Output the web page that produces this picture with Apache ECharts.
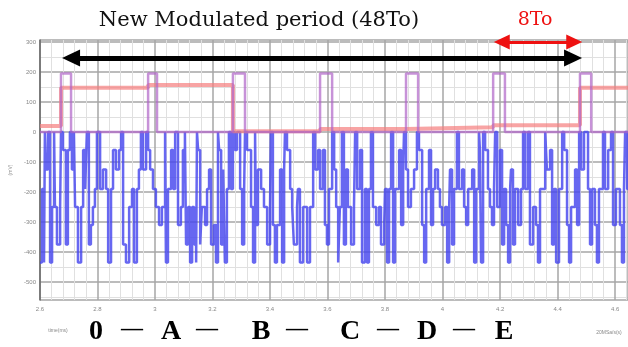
<!DOCTYPE html>
<html>
<head>
<meta charset="utf-8">
<script src="https://cdn.jsdelivr.net/npm/echarts@6/dist/echarts.min.js"></script>
<style>
html,body{margin:0;padding:0;background:#fff;}
#c{width:628px;height:347px;}
</style>
</head>
<body>
<div id="c"></div>
<script>
// ---- data ----
const xMin = 2.6, xMax = 4.645;
const yMin = -560, yMax = 307;

// purple pulse train (time, value)
const pulseTimes  = [2.6, 2.673, 2.708, 2.976, 3.007, 3.271, 3.313, 3.574, 3.616, 3.873, 3.915, 4.176, 4.217, 4.478, 4.517, 4.645];
const pulseValues = [0,   195,   0,     195,   0,     195,   0,     195,   0,     195,   0,     195,   0,     195,   0,     0];

// red step line (time, value)
const redTimes  = [2.6, 2.673, 2.976, 3.271, 3.574, 3.873, 4.176, 4.478, 4.645];
const redValues = [20,  148,   157,   3,     10,    16,    23,    148,   148];

// blue switching waveform (time, value)
const blueSteps = [
 [2.600,-435],[2.607,-190],[2.614,-435],[2.617,0],[2.621,-125],[2.628,0],[2.635,-435],[2.642,-250],[2.649,0],[2.652,-250],
 [2.659,-375],[2.670,-250],[2.673,0],[2.680,-60],[2.690,-375],[2.697,-60],[2.704,0],[2.711,-125],[2.718,0],[2.722,-250],
 [2.732,-435],[2.743,-250],[2.750,-60],[2.757,-190],[2.763,0],[2.770,-375],[2.777,-310],[2.784,-250],[2.791,-190],[2.798,0],
 [2.809,-190],[2.819,-125],[2.830,-190],[2.837,-435],[2.847,-190],[2.854,-60],[2.864,-125],[2.875,-60],[2.882,0],[2.889,-375],
 [2.899,-435],[2.910,-250],[2.920,-190],[2.927,-435],[2.937,-190],[2.944,-125],[2.951,0],[2.958,-125],[2.969,0],[2.976,-60],
 [2.983,-125],[2.993,-190],[3.003,-250],[3.014,-310],[3.024,-250],[3.035,0],[3.038,-435],[3.045,-190],[3.056,-60],[3.063,-190],
 [3.070,0],[3.080,-310],[3.090,-250],[3.097,-60],[3.104,0],[3.108,-375],[3.115,-250],[3.122,-435],[3.129,-250],[3.136,-375],
 [3.143,-435],[3.146,0],[3.150,-60],[3.157,-375],[3.163,-250],[3.174,-310],[3.181,-190],[3.188,-125],[3.195,-375],[3.205,-310],
 [3.212,-435],[3.219,0],[3.223,-60],[3.230,-375],[3.237,-125],[3.243,-435],[3.250,-190],[3.257,0],[3.264,-190],[3.271,0],
 [3.278,-60],[3.285,0],[3.296,-190],[3.303,-375],[3.310,-190],[3.313,0],[3.320,-60],[3.334,-250],[3.341,-435],[3.348,0],
 [3.351,-310],[3.358,-125],[3.369,-190],[3.379,-250],[3.390,-375],[3.400,-250],[3.403,0],[3.410,-310],[3.417,-435],[3.424,-310],
 [3.435,-125],[3.442,-435],[3.449,-125],[3.452,0],[3.459,-60],[3.470,-190],[3.477,-250],[3.483,-375],[3.494,-250],[3.497,-190],
 [3.504,-435],[3.515,-250],[3.529,-435],[3.539,-250],[3.550,0],[3.557,-125],[3.567,-60],[3.574,-190],[3.584,-60],[3.591,-310],
 [3.598,-375],[3.605,-190],[3.616,0],[3.623,-125],[3.630,-250],[3.637,-435],[3.643,-250],[3.650,0],[3.657,-375],[3.664,-125],
 [3.671,-250],[3.682,-375],[3.692,-250],[3.696,0],[3.703,-190],[3.713,-60],[3.720,-435],[3.730,-190],[3.737,-435],[3.744,-190],
 [3.751,0],[3.758,-250],[3.769,-310],[3.779,-250],[3.786,-375],[3.797,-310],[3.800,-190],[3.807,-435],[3.814,-190],[3.821,0],
 [3.828,-435],[3.835,-190],[3.849,-60],[3.856,-310],[3.863,-125],[3.866,0],[3.873,-125],[3.880,-250],[3.890,-190],[3.901,-125],
 [3.911,0],[3.918,-60],[3.929,-310],[3.936,-435],[3.943,-190],[3.953,-60],[3.960,-310],[3.967,-190],[3.974,-125],[3.984,-190],
 [3.991,-250],[3.998,-310],[4.009,-250],[4.016,-435],[4.023,-250],[4.026,-125],[4.033,-375],[4.040,-190],[4.050,0],[4.057,-190],
 [4.068,-125],[4.075,-250],[4.082,-310],[4.089,-190],[4.103,-125],[4.110,-435],[4.117,-190],[4.127,0],[4.130,-60],[4.134,-435],
 [4.141,0],[4.148,-60],[4.158,-190],[4.165,-250],[4.172,-310],[4.179,-190],[4.183,0],[4.190,-250],[4.200,-60],[4.207,-375],
 [4.214,-190],[4.221,-310],[4.228,-435],[4.235,-190],[4.238,-125],[4.245,-375],[4.252,-190],[4.263,-310],[4.273,-190],[4.280,0],
 [4.287,-190],[4.297,0],[4.304,-375],[4.315,-250],[4.325,-310],[4.332,-435],[4.339,-190],[4.357,0],[4.363,-125],[4.374,-60],
 [4.381,-375],[4.388,-190],[4.395,-435],[4.405,-190],[4.416,0],[4.423,-60],[4.433,-310],[4.440,-435],[4.447,-250],[4.461,-125],
 [4.468,-310],[4.475,0],[4.482,-125],[4.492,0],[4.506,-190],[4.513,-375],[4.520,-190],[4.530,-310],[4.537,-435],[4.544,-190],
 [4.558,0],[4.565,-190],[4.576,-60],[4.586,0],[4.593,-310],[4.603,-190],[4.617,-310],[4.624,-435],[4.631,-190],[4.635,0],
 [4.642,-190],[4.645,-190]
];

// annotation arrows (data coords of the arrow-head centres)
const periodArrow = {from: 2.708, to: 4.454, level: 247};
const eightToArrow = {from: 4.206, to: 4.458, level: 300};

// texts
const titleText = 'New Modulated period (48To)';
const eightToText = '8To';
const stateLabels = ['0', '—', 'A', '—', 'B', '—', 'C', '—', 'D', '—', 'E'];
const statePos = [96, 132, 171, 207, 261, 297, 350, 388, 427, 464, 504];

// ---- chart ----
const chart = echarts.init(document.getElementById('c'), null, {renderer: 'canvas'});

const zip = (a, b) => a.map((t, i) => [t, b[i]]);

const graphics = [
  {type: 'text', x: 259, y: 21, style: {text: titleText, font: '21px "DejaVu Serif"', fill: '#111', align: 'center', verticalAlign: 'middle'}},
  {type: 'text', x: 535, y: 20, style: {text: eightToText, font: '19px "DejaVu Serif"', fill: '#ee1111', align: 'center', verticalAlign: 'middle'}},
  {type: 'text', x: 58, y: 331, style: {text: 'time(ms)', font: '5px "Liberation Sans"', fill: '#888', align: 'center', verticalAlign: 'middle'}},
  {type: 'text', x: 609, y: 333, style: {text: '20MSa/s(s)', font: '5px "Liberation Sans"', fill: '#888', align: 'center', verticalAlign: 'middle'}}
];
stateLabels.forEach((s, i) => {
  const dash = s === '—';
  graphics.push({type: 'text', x: statePos[i], y: dash ? 329 : 332,
    style: {text: s, font: (dash ? 'bold 22px' : 'bold 28px') + ' "Liberation Serif"', fill: '#000', align: 'center', verticalAlign: 'middle'}});
});

chart.setOption({
  animation: false,
  backgroundColor: '#fff',
  grid: {left: 40, right: 0, top: 40, bottom: 47, containLabel: false},
  xAxis: {
    type: 'value', min: xMin, max: xMax, interval: 0.2,
    axisLine: {show: false}, axisTick: {show: false},
    axisLabel: {fontSize: 6, color: '#888', margin: 6, showMaxLabel: false},
    splitLine: {show: true, lineStyle: {color: '#a6a6a6', width: 1.5}},
    minorTick: {show: false, splitNumber: 5},
    minorSplitLine: {show: true, lineStyle: {color: '#e0e0e0', width: 1}}
  },
  yAxis: {
    type: 'value', min: yMin, max: yMax, splitNumber: 8,
    name: '(mV)', nameLocation: 'middle', nameGap: 27, nameRotate: 90,
    nameTextStyle: {fontSize: 5, color: '#999'},
    axisLine: {show: true, lineStyle: {color: '#666', width: 1.5}},
    axisTick: {show: false},
    axisLabel: {fontSize: 6, color: '#888', margin: 4, showMinLabel: false, showMaxLabel: false},
    splitLine: {show: true, lineStyle: {color: '#a6a6a6', width: 1.5}},
    minorTick: {show: false, splitNumber: 2},
    minorSplitLine: {show: true, lineStyle: {color: '#e0e0e0', width: 1}}
  },
  graphic: graphics,
  series: [
    {
      name: 'blue', type: 'line', step: 'end', showSymbol: false, silent: true,
      data: blueSteps,
      lineStyle: {color: 'rgba(70,70,238,0.82)', width: 2.5}
    },
    {
      name: 'red', type: 'line', step: 'end', showSymbol: false, silent: true,
      data: zip(redTimes, redValues),
      lineStyle: {color: 'rgba(245,125,125,0.7)', width: 4}
    },
    {
      name: 'pulse', type: 'line', step: 'end', showSymbol: false, silent: true,
      data: zip(pulseTimes, pulseValues),
      lineStyle: {color: 'rgba(175,100,200,0.7)', width: 2.5},
      markLine: {
        silent: true, animation: false,
        label: {show: false},
        data: [
          [{coord: [periodArrow.from, periodArrow.level], symbol: 'triangle', symbolSize: [17, 18],
            lineStyle: {color: '#000', width: 5, type: 'solid'}, itemStyle: {color: '#000'}},
           {coord: [periodArrow.to, periodArrow.level], symbol: 'triangle', symbolSize: [17, 18]}],
          [{coord: [eightToArrow.from, eightToArrow.level], symbol: 'triangle', symbolSize: [15, 16],
            lineStyle: {color: '#ee1111', width: 3, type: 'solid'}, itemStyle: {color: '#ee1111'}},
           {coord: [eightToArrow.to, eightToArrow.level], symbol: 'triangle', symbolSize: [15, 16]}]
        ]
      }
    }
  ]
});
</script>
</body>
</html>
